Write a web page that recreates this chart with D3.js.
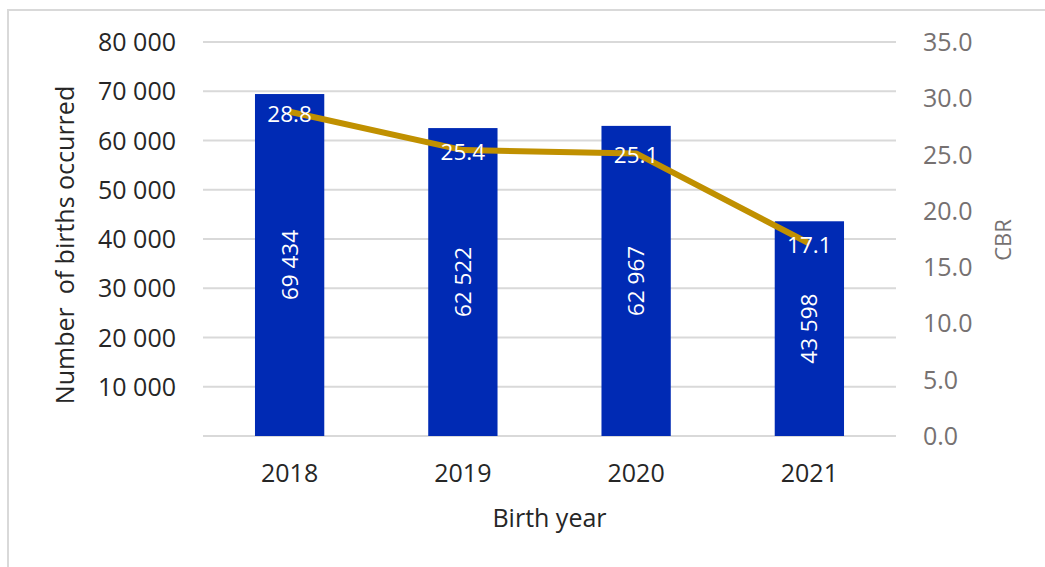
<!DOCTYPE html>
<html>
<head>
<meta charset="utf-8">
<script src="https://cdn.jsdelivr.net/npm/d3@7"></script>
<style>
  html, body { margin: 0; padding: 0; background: #fff; }
  svg { display: block; font-family: "Open Sans", sans-serif; }
</style>
</head>
<body>
<svg id="chart" width="1045" height="567"></svg>
<script>
// Births and crude birth rate by year
const years = ["2018", "2019", "2020", "2021"];
const births = [69434, 62522, 62967, 43598];
const cbr = [28.8, 25.4, 25.1, 17.1];
const leftTicks = [0, 10000, 20000, 30000, 40000, 50000, 60000, 70000, 80000];
const rightTicks = [0, 5, 10, 15, 20, 25, 30, 35];

const svg = d3.select("#chart");
const W = 1045, H = 567;
const m = { left: 203, right: 896, top: 42, bottom: 436 };

// chart frame
svg.append("rect")
  .attr("x", 8).attr("y", 10)
  .attr("width", W + 20).attr("height", H + 20)
  .attr("fill", "none").attr("stroke", "#d9d9d9").attr("stroke-width", 2);

const x = d3.scaleBand().domain(years).range([m.left, m.right]).paddingInner(0.6).paddingOuter(0.3);
const yL = d3.scaleLinear().domain([0, 80000]).range([m.bottom, m.top]);
const yR = d3.scaleLinear().domain([0, 35]).range([m.bottom, m.top]);

const fmtInt = v => d3.format(",")(v).replace(/,/g, " ");

// gridlines
svg.append("g").selectAll("line").data(leftTicks).join("line")
  .attr("x1", m.left).attr("x2", m.right)
  .attr("y1", d => yL(d)).attr("y2", d => yL(d))
  .attr("stroke", "#d9d9d9").attr("stroke-width", 2);

// left axis
const axL = svg.append("g").attr("transform", `translate(${m.left},0)`)
  .call(d3.axisLeft(yL).tickValues(leftTicks.filter(d => d > 0)).tickFormat(fmtInt).tickSize(0).tickPadding(27));
axL.select(".domain").remove();
axL.selectAll("text").attr("font-size", 25).attr("fill", "#262626").attr("font-family", "Open Sans").attr("dy", "0.34em");

// right axis
const axR = svg.append("g").attr("transform", `translate(${m.right},0)`)
  .call(d3.axisRight(yR).tickValues(rightTicks).tickFormat(d3.format(".1f")).tickSize(0).tickPadding(27));
axR.select(".domain").remove();
axR.selectAll("text").attr("font-size", 25).attr("fill", "#767171").attr("font-family", "Open Sans").attr("dy", "0.34em");

// bottom axis
const axB = svg.append("g").attr("transform", `translate(0,${m.bottom})`)
  .call(d3.axisBottom(x).tickSize(0).tickPadding(28));
axB.select(".domain").remove();
axB.selectAll("text").attr("font-size", 25).attr("fill", "#262626").attr("font-family", "Open Sans");

// bars
svg.append("g").selectAll("rect").data(years).join("rect")
  .attr("x", d => x(d))
  .attr("width", x.bandwidth())
  .attr("y", (d, i) => yL(births[i]))
  .attr("height", (d, i) => yL(0) - yL(births[i]))
  .attr("fill", "#002ab4");

// bar value labels (rotated)
svg.append("g").selectAll("text").data(years).join("text")
  .attr("transform", (d, i) => `translate(${x(d) + x.bandwidth() / 2},${(yL(births[i]) + yL(0)) / 2}) rotate(-90)`)
  .attr("text-anchor", "middle").attr("dy", "0.35em")
  .attr("font-size", 22.5).attr("fill", "#fff")
  .text((d, i) => fmtInt(births[i]));

// CBR line
const line = d3.line()
  .x((d, i) => x(years[i]) + x.bandwidth() / 2)
  .y(d => yR(d));
svg.append("path").datum(cbr)
  .attr("d", line)
  .attr("fill", "none").attr("stroke", "#c09000").attr("stroke-width", 6)
  .attr("stroke-linejoin", "round");

// CBR labels
svg.append("g").selectAll("text").data(cbr).join("text")
  .attr("x", (d, i) => x(years[i]) + x.bandwidth() / 2)
  .attr("y", d => yR(d) + 2)
  .attr("text-anchor", "middle").attr("dy", "0.35em")
  .attr("font-size", 22.5).attr("fill", "#fff")
  .text(d => d3.format(".1f")(d));

// axis titles
svg.append("text")
  .attr("transform", `translate(65,${(m.top + m.bottom) / 2 + 6}) rotate(-90)`)
  .attr("text-anchor", "middle").attr("dy", "0.35em")
  .attr("font-size", 25).attr("fill", "#262626")
  .attr("xml:space", "preserve")
  .text("Number  of births occurred");

svg.append("text")
  .attr("transform", `translate(1003,240) rotate(-90)`)
  .attr("text-anchor", "middle").attr("dy", "0.35em")
  .attr("font-size", 22).attr("fill", "#767171")
  .text("CBR");

svg.append("text")
  .attr("x", (m.left + m.right) / 2).attr("y", 518)
  .attr("text-anchor", "middle").attr("dy", "0.35em")
  .attr("font-size", 25).attr("fill", "#262626")
  .text("Birth year");
</script>
</body>
</html>
